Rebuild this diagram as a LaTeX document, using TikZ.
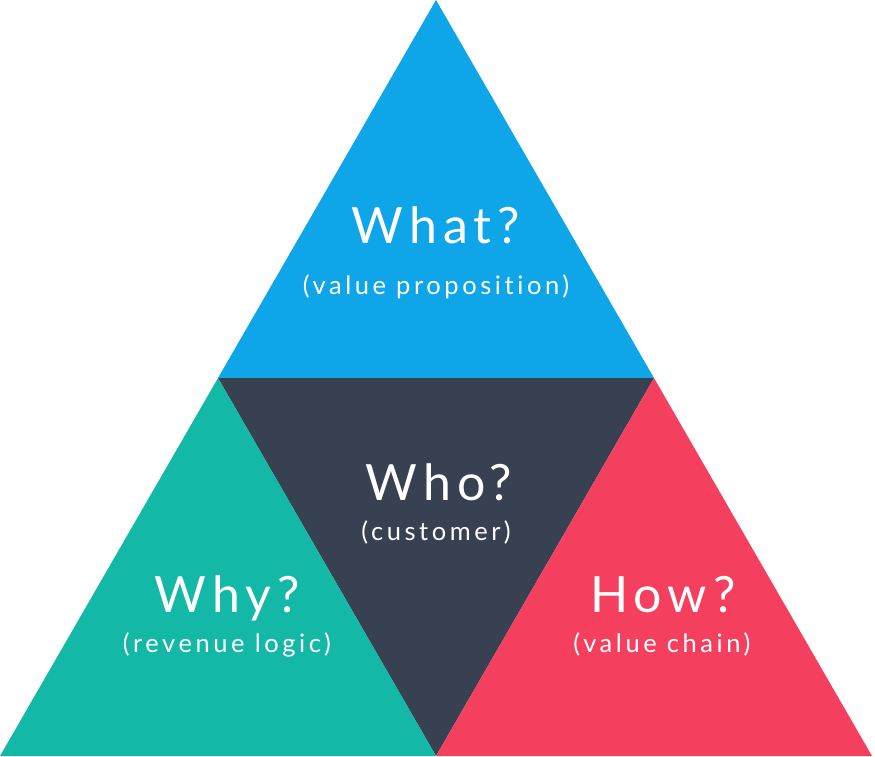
\documentclass[tikz,border=0pt]{standalone}
\usepackage{fontspec}
\setmainfont{Lato}
\newfontfamily\titlefont[LetterSpace=12,Ligatures={NoCommon,NoRare}]{Lato}
\newfontfamily\subfont[LetterSpace=14,Ligatures={NoCommon,NoRare}]{Lato}
\definecolor{skyb}{HTML}{0EA5E9}
\definecolor{slate}{HTML}{374151}
\definecolor{tealc}{HTML}{14B8A6}
\definecolor{rosec}{HTML}{F43F5E}
\begin{document}
\begin{tikzpicture}[x=1pt,y=-1pt,
  title/.style={text=white,anchor=base,inner sep=0pt,font=\titlefont\fontsize{50}{50}\selectfont},
  sub/.style={text=white,anchor=base,inner sep=0pt,font=\subfont\fontsize{25.5}{25.5}\selectfont}]
\useasboundingbox (0,0) rectangle (875,756);
\coordinate (apex) at (436,0);
\coordinate (ml) at (218,378);
\coordinate (mr) at (654,378);
\coordinate (bl) at (0,756);
\coordinate (bm) at (436,756);
\coordinate (br) at (872,756);
\fill[skyb] (apex) -- (mr) -- (ml) -- cycle;
\fill[slate] (ml) -- (mr) -- (bm) -- cycle;
\fill[tealc] (ml) -- (bm) -- (bl) -- cycle;
\fill[rosec] (mr) -- (br) -- (bm) -- cycle;
\node[title] (what) at (436,243) {What?};
\node[sub] (whatsub) at (436,294) {(value propo{}si{}t{}ion)};
\node[title] (who) at (439,500) {Who?};
\node[sub] (whosub) at (436,540) {(customer)};
\node[title] (why) at (227,612) {Why?};
\node[sub] (whysub) at (227,652) {(revenue logic)};
\node[title] (how) at (663,612) {How?};
\node[sub] (howsub) at (662,652) {(value chain)};
\end{tikzpicture}
\end{document}
